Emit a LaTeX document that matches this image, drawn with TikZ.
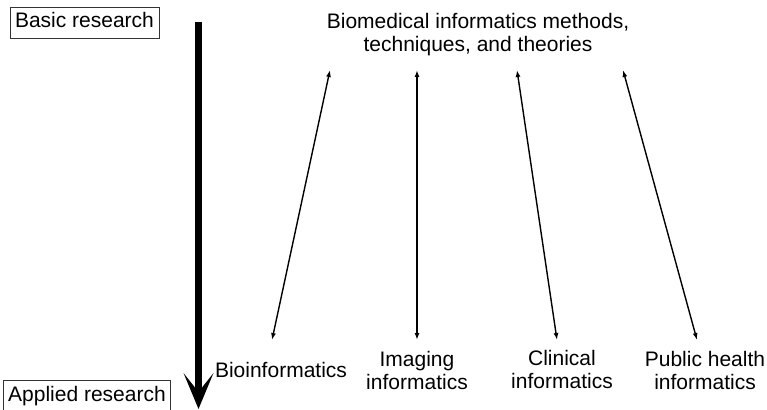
\documentclass[tikz,border=0pt]{standalone}
\usepackage{fontspec}
\setmainfont{Liberation Sans}
\usetikzlibrary{arrows.meta}
\begin{document}
\begin{tikzpicture}[x=1pt,y=-1pt,
  lbl/.style={font=\fontsize{21}{23}\selectfont, align=center, inner sep=0pt},
  boxed/.style={draw=black!80, line width=0.7pt, font=\fontsize{21}{23}\selectfont,
     inner xsep=5pt, inner ysep=5pt, text height=16pt, text depth=5pt},
  link/.style={line width=1.4pt, {Latex[length=7pt,width=5pt]}-{Latex[length=7pt,width=5pt]}},
  mainarrow/.style={line width=7pt, -{Stealth[length=36pt,width=30pt,inset=19pt,line width=0pt]}}]
\useasboundingbox (0,0) rectangle (767,409);
\node[boxed] (basic) at (84.5,22.5) {Basic research};
\node[boxed] (applied) at (87,395.5) {Applied research};
\coordinate (ms) at (198.5,22);
\coordinate (me) at (198.5,409);
\draw[mainarrow] (ms) -- (me);
\node[lbl] (methods) at (478,35) {Biomedical informatics methods,\\techniques, and theories};
\node[lbl] (bio) at (281,370) {Bioinformatics};
\node[lbl] (img) at (417,370) {Imaging\\informatics};
\node[lbl] (cli) at (562,369) {Clinical\\informatics};
\node[lbl] (pub) at (705,370) {Public health\\informatics};
\coordinate (t1) at (330,70); \coordinate (b1) at (272,340);
\coordinate (t2) at (417,70); \coordinate (b2) at (417,340);
\coordinate (t3) at (517,70); \coordinate (b3) at (557,340);
\coordinate (t4) at (623,70); \coordinate (b4) at (697,340);
\draw[link] (b1) -- (t1);
\draw[link, line width=2pt] (b2) -- (t2);
\draw[link] (b3) -- (t3);
\draw[link] (b4) -- (t4);
\end{tikzpicture}
\end{document}
